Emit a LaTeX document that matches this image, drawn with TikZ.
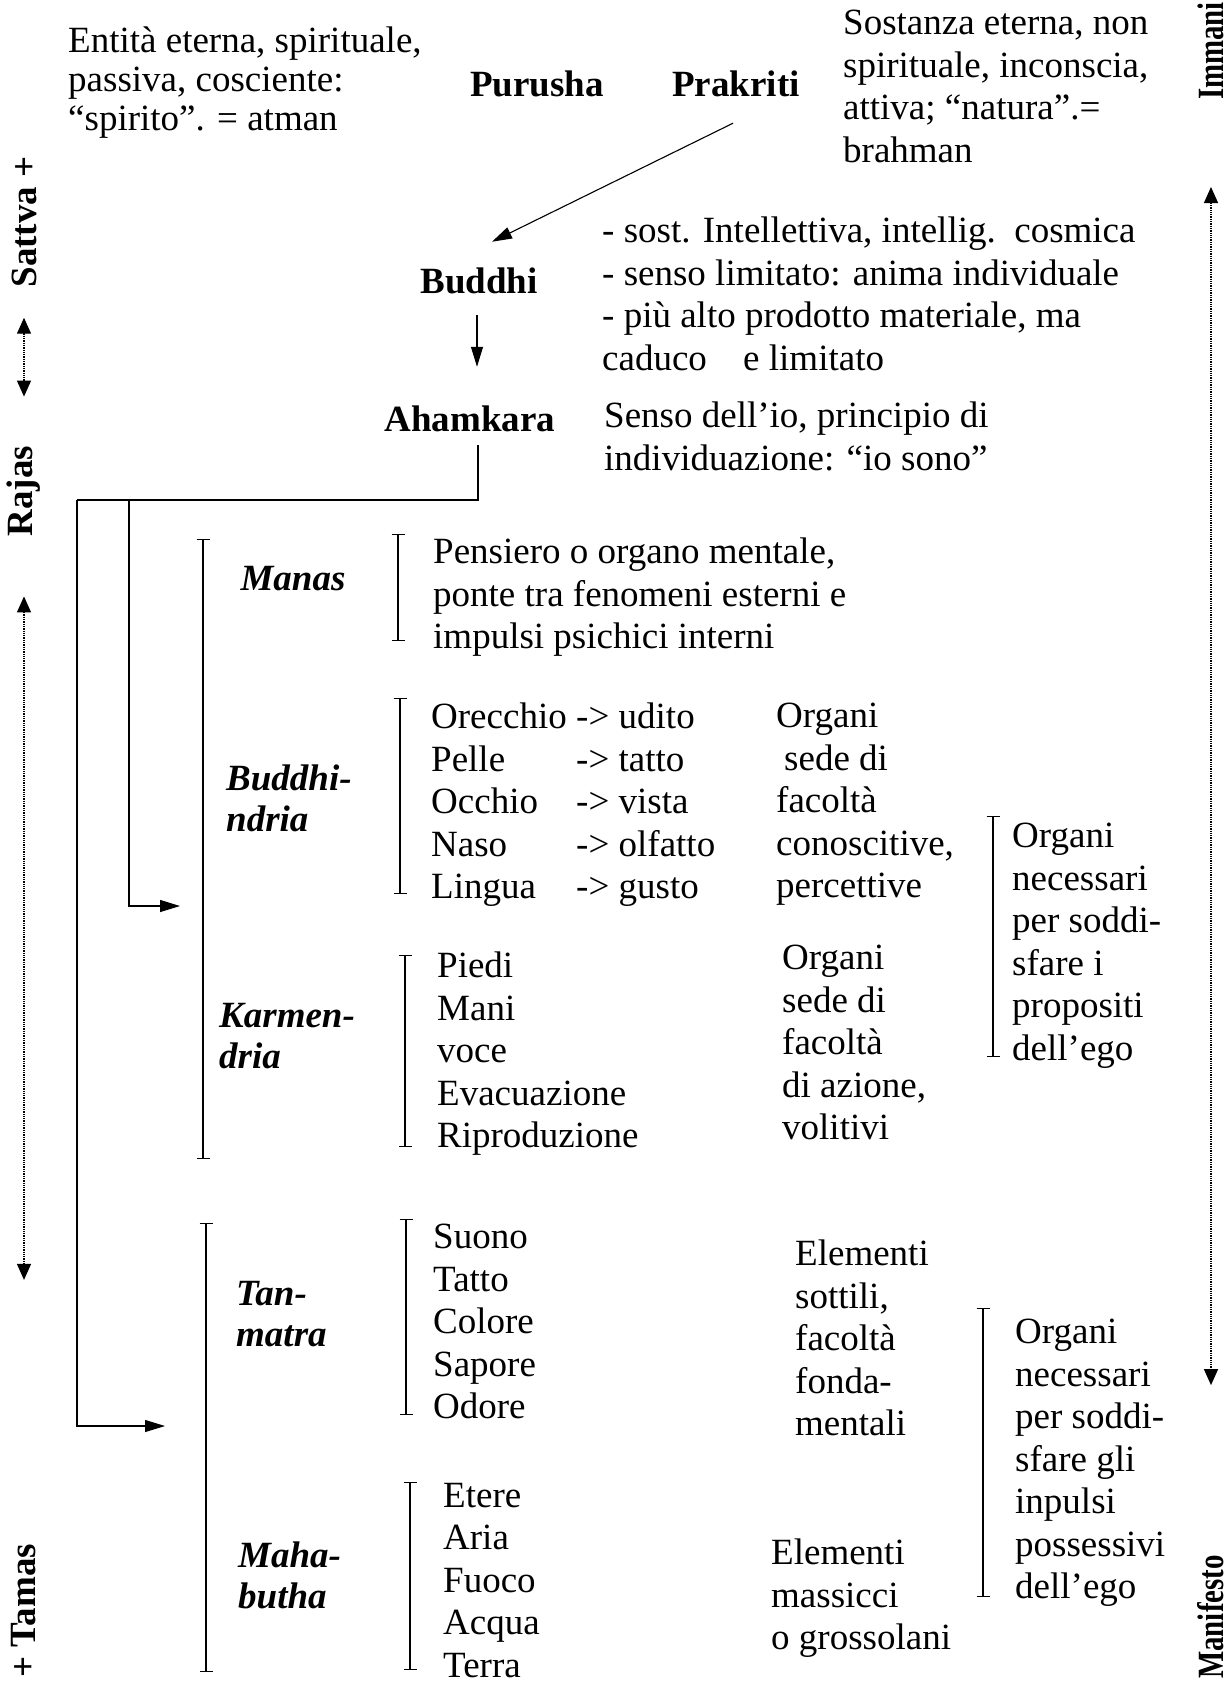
\documentclass[tikz,border=0pt]{standalone}
\usepackage{fontspec}
\setmainfont{Liberation Serif}
\usetikzlibrary{arrows.meta,calc}

\newcommand\organ[1]{\makebox[3.92em][l]{#1}}

\begin{document}
\begin{tikzpicture}[x=1pt,y=-1pt,
  every node/.style={inner sep=0pt,font=\fontsize{37}{42.5}\selectfont},
  txt/.style={anchor=north west,align=left},
  head/.style={font=\fontsize{37}{42.5}\selectfont\bfseries},
  kind/.style={anchor=north west,align=left,font=\fontsize{37}{41}\selectfont\bfseries\itshape},
  side/.style={rotate=90,font=\fontsize{37}{42}\selectfont\bfseries},
  rside/.style={side,xscale=0.78},
  arr/.style={-{Triangle[length=20pt,width=12pt]},line width=1.1pt},
  axis/.style={{Triangle[length=16pt,width=14pt]}-{Triangle[length=16pt,width=14pt]},densely dotted,line width=1.3pt},
  tickbar/.style={{Bar[width=13pt]}-{Bar[width=13pt]},line width=1.3pt}]
 \useasboundingbox (0,0) rectangle (1229,1684);

 % top
 \node[txt,font=\fontsize{37}{39}\selectfont] (purushaText) at (68,27) {Entità eterna, spirituale,\\passiva, cosciente:\\“spirito”. = atman};
 \node[head] (purusha) at (537,84) {Purusha};
 \node[head] (prakriti) at (736,84) {Prakriti};
 \node[txt] (prakritiText) at (843,10) {Sostanza eterna, non\\spirituale, inconscia,\\attiva; “natura”.=\\brahman};

 \node[head] (buddhi) at (479,281) {Buddhi};
 \node[txt] (buddhiText) at (602,217) {- sost. Intellettiva, intellig.\ \ cosmica\\- senso limitato: anima individuale\\- più alto prodotto materiale, ma\\caduco\hspace*{27pt} e limitato};
 \node[head] (ahamkara) at (470,419) {Ahamkara};
 \node[txt] (ahamkaraText) at (604,402) {Senso dell'io, principio di\\individuazione: “io sono”};

 % organi
 \node[kind,anchor=center] (manas) at (293,579) {Manas};
 \node[txt] (manasText) at (433,538) {Pensiero o organo mentale,\\ponte tra fenomeni esterni e\\impulsi psichici interni};
 \node[kind] (buddhindria) at (226,765) {Buddhi-\\ndria};
 \node[txt] (senseList) at (431,703) {\organ{Orecchio}-> udito\\\organ{Pelle}-> tatto\\\organ{Occhio}-> vista\\\organ{Naso}-> olfatto\\\organ{Lingua}-> gusto};
 \node[txt] (perception) at (776,703) {Organi\\\hspace*{8pt}sede di\\facoltà\\conoscitive,\\percettive};
 \node[txt] (purposes) at (1012,823) {Organi\\necessari\\per soddi-\\sfare i\\propositi\\dell'ego};
 \node[kind] (karmendria) at (219,1003) {Karmen-\\dria};
 \node[txt] (actionList) at (437,952) {Piedi\\Mani\\voce\\Evacuazione\\Riproduzione};
 \node[txt] (action) at (782,945) {Organi\\sede di\\facoltà\\di azione,\\volitivi};

 % elementi
 \node[kind] (tanmatra) at (236,1281) {Tan-\\matra};
 \node[txt] (subtleList) at (433,1224) {Suono\\Tatto\\Colore\\Sapore\\Odore};
 \node[txt] (subtle) at (795,1240) {Elementi\\sottili,\\facoltà\\fonda-\\mentali};
 \node[txt] (impulses) at (1015,1319) {Organi\\necessari\\per soddi-\\sfare gli\\inpulsi\\possessivi\\dell'ego};
 \node[kind] (mahabutha) at (238,1542) {Maha-\\butha};
 \node[txt] (grossList) at (443,1483) {Etere\\Aria\\Fuoco\\Acqua\\Terra};
 \node[txt] (gross) at (771,1539) {Elementi\\massicci\\o grossolani};

 % guna e manifestazione
 \node[side] (sattva) at (24,222) {Sattva +};
 \node[side] (rajas) at (24,491) {Rajas};
 \node[side] (tamas) at (24,1611) {+ Tamas};
 \node[rside,anchor=west] (immani) at (1211,100) {Immani};
 \node[rside] (manifesto) at (1211,1617) {Manifesto};

 \draw[axis,shorten <=30pt,shorten >=49pt] (sattva.west) -- (rajas.east);
 \draw[axis,shorten <=60pt,shorten >=264pt] (rajas.west) -- (tamas.east);
 \draw[axis,shorten <=87pt,shorten >=170pt] (immani.west) -- (manifesto.east);

 % derivazione
 \coordinate (root) at (77,500);
 \coordinate (fork) at (129,500);
 \coordinate (senseIn) at (180,906);
 \coordinate (elemIn) at (165,1426);
 \draw[arr] ($(prakriti.south)+(-3,26)$) -- ($(buddhi.north)+(13,-26)$);
 \draw[arr] ($(buddhi.south)+(-2,21)$) -- ($(ahamkara.north)+(7,-39)$);
 \draw[line width=1.1pt] ($(ahamkara.south)+(8,13)$) |- (root);
 \draw[arr] (root) |- (elemIn);
 \draw[arr] (fork) |- (senseIn);

 \foreach \x/\ya/\yb in {203/539/1159,206/1223/1672,398/534/641,400/698/894,
   405/955/1147,406/1219/1415,410/1482/1670,993/816/1057,983/1308/1597}
  \draw[tickbar] (\x,\ya) -- (\x,\yb);
\end{tikzpicture}
\end{document}
